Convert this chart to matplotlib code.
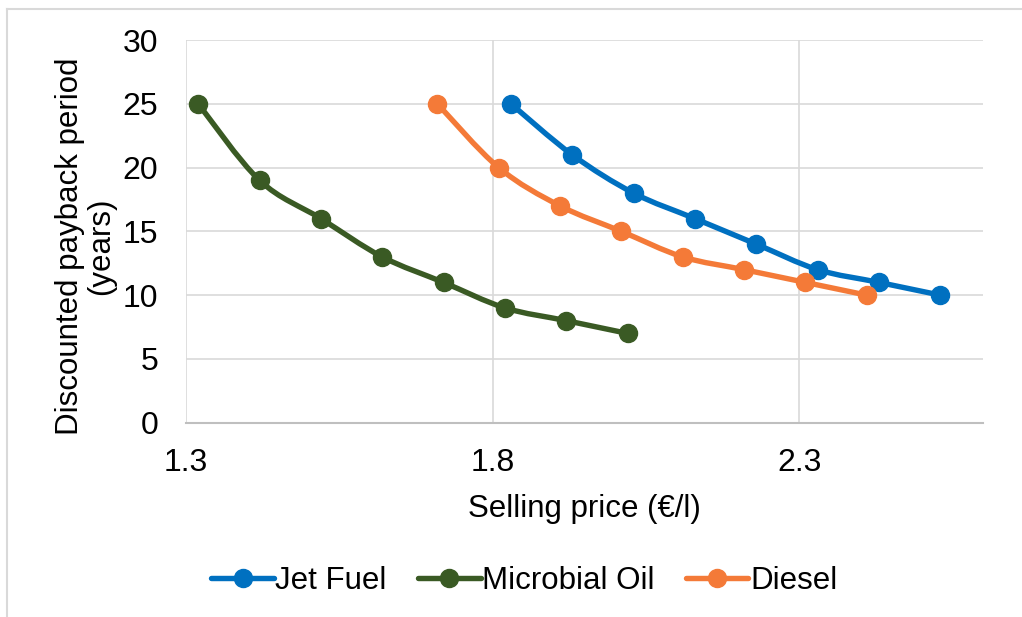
import numpy as np
import matplotlib
matplotlib.use("Agg")
from matplotlib import pyplot as plt
from matplotlib.path import Path
from matplotlib.patches import PathPatch
from matplotlib.lines import Line2D

plt.rcParams['font.family'] = ['Liberation Sans', 'DejaVu Sans']

# selling price (€/l) and discounted payback period (years)
jet_price = [1.83, 1.93, 2.03, 2.13, 2.23, 2.33, 2.43, 2.53]
jet_years = [25, 21, 18, 16, 14, 12, 11, 10]
oil_price = [1.32, 1.42, 1.52, 1.62, 1.72, 1.82, 1.92, 2.02]
oil_years = [25, 19, 16, 13, 11, 9, 8, 7]
diesel_price = [1.71, 1.81, 1.91, 2.01, 2.11, 2.21, 2.31, 2.41]
diesel_years = [25, 20, 17, 15, 13, 12, 11, 10]

series_names = ['Jet Fuel', 'Microbial Oil', 'Diesel']
colors = ['#0070C0', '#3A5A24', '#F47A38']
x_ticks = [1.3, 1.8, 2.3]
y_ticks = [0, 5, 10, 15, 20, 25, 30]


def smooth_path(xs, ys):
    # bezier segments through every point (catmull-rom style tangents)
    p = np.column_stack([xs, ys]).astype(float)
    n = len(p)
    verts = [p[0]]
    codes = [Path.MOVETO]
    for i in range(n - 1):
        p0 = p[i - 1] if i > 0 else p[i]
        p1 = p[i]
        p2 = p[i + 1]
        p3 = p[i + 2] if i + 2 < n else p[i + 1]
        c1 = p1 + (p2 - p0) / 6.0
        c2 = p2 - (p3 - p1) / 6.0
        verts += [c1, c2, p2]
        codes += [Path.CURVE4] * 3
    return Path(verts, codes)


fig = plt.figure(figsize=(10.22, 6.17), dpi=100)
ax = fig.add_axes([0.182, 0.315, 0.78, 0.62])

data = [(jet_price, jet_years), (oil_price, oil_years), (diesel_price, diesel_years)]
for (xs, ys), c in zip(data, colors):
    ax.add_patch(PathPatch(smooth_path(xs, ys), facecolor='none', edgecolor=c,
                           lw=3.9, capstyle='round', joinstyle='round', zorder=3))
    ax.plot(xs, ys, linestyle='none', marker='o', ms=13, color=c, zorder=4)

ax.set_xlim(1.3, 2.6)
ax.set_ylim(0, 30)
ax.set_xticks(x_ticks)
ax.set_xticklabels([str(t) for t in x_ticks])
ax.set_yticks(y_ticks)
ax.grid(True, color='#D9D9D9', lw=1.2)
ax.set_axisbelow(True)
for s in ['top', 'right', 'left']:
    ax.spines[s].set_visible(False)
ax.spines['bottom'].set_color('#BFBFBF')
ax.spines['bottom'].set_linewidth(1.5)
ax.tick_params(length=0, labelsize=23, pad=18)
ax.tick_params(axis='y', pad=20)

ax.set_xlabel('Selling price (€/l)', fontsize=22.5, labelpad=12)
ax.set_ylabel('Discounted payback period\n(years)', fontsize=22.5,
              linespacing=1.05)
ax.yaxis.set_label_coords(-0.088, 0.462)

handles = [Line2D([], [], color=c, lw=3.9, marker='o', ms=13, solid_capstyle='round')
           for c in colors]
fig.legend(handles, series_names, loc='center', bbox_to_anchor=(0.513, 0.058),
           ncol=3, frameon=False, fontsize=22.5, handlelength=2.0,
           handletextpad=0.05, columnspacing=1.0)

# chart area frame
fig.add_artist(Line2D([0.007, 0.007], [0.0, 0.985], color='#D9D9D9', lw=1.5))
fig.add_artist(Line2D([0.007, 1.0], [0.985, 0.985], color='#D9D9D9', lw=1.5))

fig.savefig('out.png', dpi=100, facecolor='white')
